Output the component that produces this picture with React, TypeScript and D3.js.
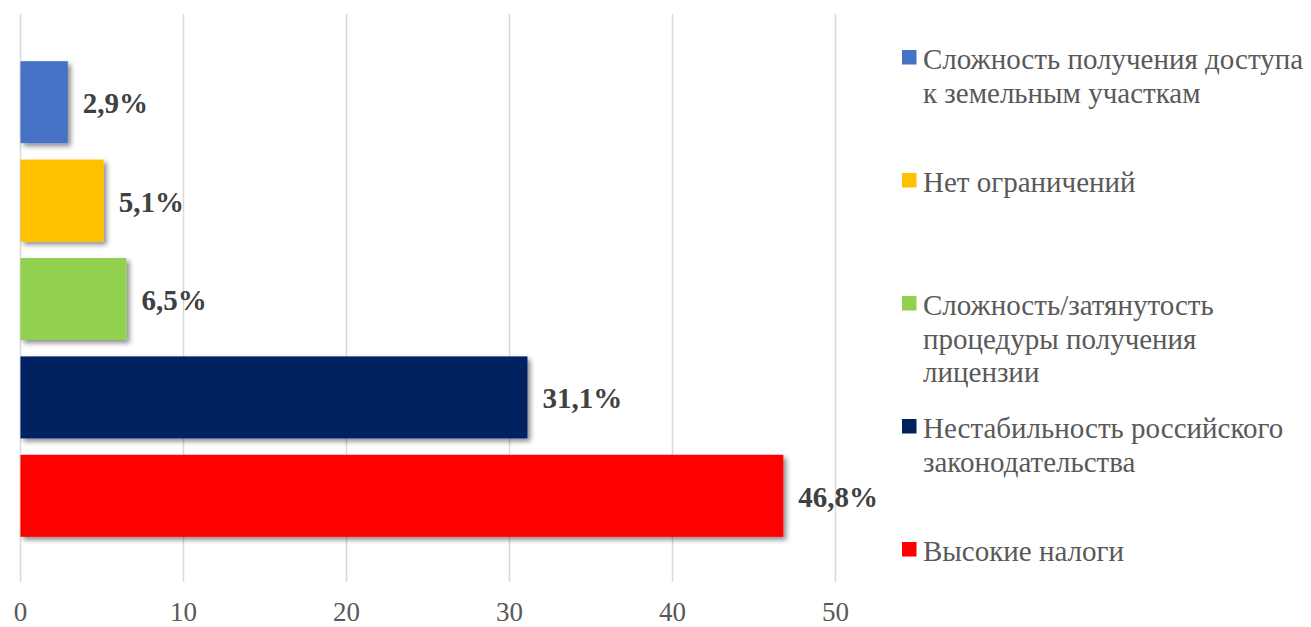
import React from "react";
import * as d3 from "d3";

const categories = [
  "Сложность получения доступа к земельным участкам",
  "Нет ограничений",
  "Сложность/затянутость процедуры получения лицензии",
  "Нестабильность российского законодательства",
  "Высокие налоги",
];
const values = [2.9, 5.1, 6.5, 31.1, 46.8];
const valueLabels = ["2,9%", "5,1%", "6,5%", "31,1%", "46,8%"];
const colors = ["#4472C4", "#FFC000", "#92D050", "#002060", "#FF0000"];
const legendLines = [
  ["Сложность получения доступа", "к земельным участкам"],
  ["Нет ограничений"],
  ["Сложность/затянутость", "процедуры получения", "лицензии"],
  ["Нестабильность российского", "законодательства"],
  ["Высокие налоги"],
];
const xTicks = [0, 10, 20, 30, 40, 50];

const W = 1311;
const H = 627;

export default function App() {
  const x = d3.scaleLinear().domain([0, 50]).range([20.5, 835.5]);
  const y = d3
    .scaleBand<string>()
    .domain(categories)
    .range([53, 545])
    .paddingInner(0.1667)
    .paddingOuter(0.0833);
  const legendY = d3.scaleLinear().domain([0, 4]).range([50, 542]);
  const font = "Liberation Serif";

  return (
    <svg
      width={W}
      height={H}
      style={{ position: "absolute", left: 0, top: 0, background: "#fff", fontFamily: font }}
    >
      <defs>
        <filter id="shadow" x="-10%" y="-20%" width="130%" height="160%">
          <feDropShadow dx="3" dy="3" stdDeviation="2.5" floodColor="#000" floodOpacity="0.45" />
        </filter>
      </defs>
      {xTicks.map((t) => (
        <line
          key={t}
          x1={x(t)}
          x2={x(t)}
          y1={14}
          y2={582}
          stroke="#d9d9d9"
          strokeWidth={1.5}
        />
      ))}
      {xTicks.map((t) => (
        <text
          key={"t" + t}
          x={x(t)}
          y={620.5}
          textAnchor="middle"
          style={{ fontFamily: font, fontSize: 27 }}
          fill="#595959"
        >
          {t}
        </text>
      ))}
      {categories.map((c, i) => (
        <rect
          key={c}
          x={x(0)}
          y={y(c)}
          width={x(values[i]) - x(0)}
          height={y.bandwidth()}
          fill={colors[i]}
          filter="url(#shadow)"
        />
      ))}
      {categories.map((c, i) => (
        <text
          key={"l" + c}
          x={x(values[i]) + 15}
          y={(y(c) as number) + y.bandwidth() / 2 + 11}
          style={{ fontFamily: font, fontSize: 29, fontWeight: "bold" }}
          fill="#404040"
        >
          {valueLabels[i]}
        </text>
      ))}
      {legendLines.map((lines, i) => {
        const top = legendY(i);
        return (
          <g key={"lg" + i}>
            <rect x={902} y={top} width={14.5} height={14.5} fill={colors[i]} />
            {lines.map((ln, j) => (
              <text
                key={j}
                x={923}
                y={top + 19 + j * 33.5}
                style={{ fontFamily: font, fontSize: 29 }}
                fill="#595959"
              >
                {ln}
              </text>
            ))}
          </g>
        );
      })}
    </svg>
  );
}
